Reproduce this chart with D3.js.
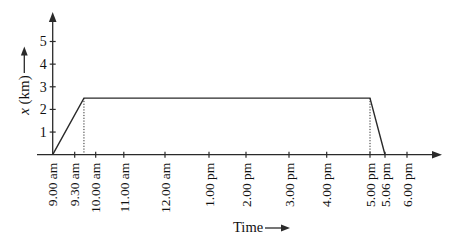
<!DOCTYPE html>
<html>
<head>
<meta charset="utf-8">
<script src="https://cdn.jsdelivr.net/npm/d3@7"></script>
<style>
  body { margin: 0; background: #fff; }
  text { font-family: "Liberation Serif", "DejaVu Serif", serif; fill: #111; }
</style>
</head>
<body>
<div id="chart"></div>
<script>
// tick hours and labels along the time axis
const tickHours = [9, 9.5, 10, 11, 12, 13, 14, 15, 16, 17, 17.1, 18];
const tickLabels = ['9.00 am', '9.30 am', '10.00 am', '11.00 am', '12.00 am', '1.00 pm',
                    '2.00 pm', '3.00 pm', '4.00 pm', '5.00 pm', '5.06 pm', '6.00 pm'];
// position-time graph (hour, km)
const pathHours = [9, 9.72, 17, 17.1];
const pathKm = [0, 2.5, 2.5, 0];
const yTicks = [1, 2, 3, 4, 5];

// the sketch spaces the ticks unevenly, so the axis is piecewise linear
const tickPx = [52.7, 74.7, 95.7, 123.8, 165, 209, 246, 289, 326.7, 370, 385, 407];

const width = 468, height = 248;
const ink = '#2a2a2a';
const svg = d3.select('#chart').append('svg')
    .attr('width', width).attr('height', height);

const x = d3.scaleLinear().domain(tickHours).range(tickPx);
const y = d3.scaleLinear().domain([0, 5]).range([154.7, 41.5]);

const arrow = (g, x1, y1, x2, y2, head) => {
    const a = Math.atan2(y2 - y1, x2 - x1);
    g.append('line').attr('x1', x1).attr('y1', y1)
        .attr('x2', x2 - Math.cos(a) * head * 0.6).attr('y2', y2 - Math.sin(a) * head * 0.6)
        .attr('stroke', ink).attr('stroke-width', 1.3);
    const w = head * 0.38;
    const bx = x2 - Math.cos(a) * head, by = y2 - Math.sin(a) * head;
    g.append('path')
        .attr('d', `M${x2},${y2}L${bx - Math.sin(a) * w},${by + Math.cos(a) * w}` +
                   `L${bx + Math.sin(a) * w},${by - Math.cos(a) * w}Z`)
        .attr('fill', ink);
};

// axes
arrow(svg, 37, y(0), 442, y(0), 10);
arrow(svg, x(9), y(0), x(9), 12, 10);

// x ticks + rotated labels
const xt = svg.append('g');
xt.selectAll('line').data(tickHours.slice(1)).join('line')
    .attr('x1', d => x(d)).attr('x2', d => x(d))
    .attr('y1', y(0) - 3).attr('y2', y(0) + 3)
    .attr('stroke', ink).attr('stroke-width', 1.2);
xt.selectAll('text').data(tickHours).join('text')
    .attr('transform', d => `translate(${x(d)},${y(0) + 8}) rotate(-90)`)
    .attr('text-anchor', 'end')
    .attr('dy', '0.35em')
    .style('font-size', '13.5px')
    .text((d, i) => tickLabels[i]);

// y ticks + labels
const yt = svg.append('g');
yt.selectAll('line').data(yTicks).join('line')
    .attr('x1', x(9) - 3).attr('x2', x(9) + 3)
    .attr('y1', d => y(d)).attr('y2', d => y(d))
    .attr('stroke', ink).attr('stroke-width', 1.2);
yt.selectAll('text').data(yTicks).join('text')
    .attr('x', x(9) - 6).attr('y', d => y(d))
    .attr('text-anchor', 'end').attr('dy', '0.35em')
    .style('font-size', '14px')
    .text(d => d);

// dotted drops from the plateau
svg.selectAll('line.drop').data([pathHours[1], pathHours[2]]).join('line')
    .attr('class', 'drop')
    .attr('x1', d => x(d)).attr('x2', d => x(d))
    .attr('y1', y(2.5)).attr('y2', y(0))
    .attr('stroke', ink).attr('stroke-width', 1)
    .attr('stroke-dasharray', '1.2,1.6');

// the graph
svg.append('path')
    .datum(pathHours.map((h, i) => [h, pathKm[i]]))
    .attr('d', d3.line().x(d => x(d[0])).y(d => y(d[1])))
    .attr('fill', 'none').attr('stroke', ink).attr('stroke-width', 1.4);

// y label
const yl = svg.append('text')
    .attr('transform', 'translate(24,95) rotate(-90)')
    .attr('text-anchor', 'middle').attr('dy', '0.35em')
    .style('font-size', '15px');
yl.append('tspan').style('font-style', 'italic').text('x');
yl.append('tspan').text(' (km)');
arrow(svg, 24.3, 73, 24.3, 46.5, 9);

// x label
svg.append('text')
    .attr('x', 233).attr('y', 227).attr('dy', '0.35em')
    .style('font-size', '14.5px')
    .text('Time');
arrow(svg, 265, 228, 290, 228, 9);
</script>
</body>
</html>
